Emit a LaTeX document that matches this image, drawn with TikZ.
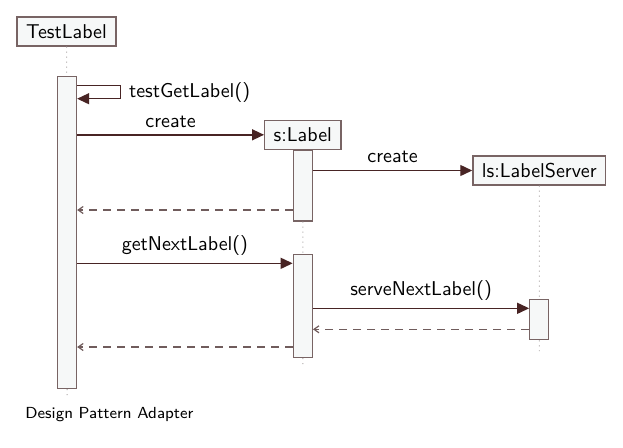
\documentclass[tikz,border=0pt]{standalone}
\usetikzlibrary{arrows.meta}
\definecolor{boxline}{RGB}{120,100,100}
\definecolor{boxfill}{RGB}{246,248,248}
\definecolor{msgline}{RGB}{72,36,36}
\definecolor{retline}{RGB}{112,92,92}
\definecolor{lifeline}{RGB}{170,165,165}
\tikzset{
	objbox/.style={draw=boxline,fill=boxfill,line width=0.65pt,inner xsep=4.5pt,minimum height=14.5pt},
	actbox/.style={draw=boxline,fill=boxfill,line width=0.65pt,minimum width=9.5pt,inner sep=0pt,anchor=north},
	life/.style={draw=lifeline,dotted,line width=0.5pt},
	call/.style={draw=msgline,line width=0.7pt,-{Triangle[length=6pt,width=5.5pt]}},
	reply/.style={draw=retline,dashed,dash pattern=on 4pt off 3pt,line width=0.6pt,-{Straight Barb[length=2.5pt,width=3.5pt]}}
}
\begin{document}
\begin{tikzpicture}[x=0.5pt,y=-0.5pt,font=\sffamily]
				\useasboundingbox (0,0) rectangle (623,447);
				\node[objbox] (tl) at (66.5,31.5) {TestLabel};
				\node[objbox] (s) at (302.8,134.8) {s:Label};
				\node[objbox] (ls) at (539.3,170.5) {ls:LabelServer};
				\node[actbox,minimum height=155.9pt] (tla) at (67,76) {};
				\node[actbox,minimum height=35.2pt] (sa1) at (s.south) {};
				\node[actbox,minimum height=51.5pt] (sa2) at (302.8,253.7) {};
				\node[actbox,minimum height=20.2pt] (lsa) at (539.3,298.7) {};
				\coordinate (tle) at (67,395);
				\coordinate (se) at (302.8,365);
				\coordinate (lse) at (539.3,351);
				\draw[life] (tl)--(tla) (tla)--(tle) (sa1)--(sa2) (sa2)--(se) (ls)--(lsa) (lsa)--(lse);
				\coordinate (m1) at (120.7,85.7);
				\coordinate (m2) at (120.7,98.7);
				\coordinate (m4) at (0,210);
				\coordinate (m5) at (0,263.3);
				\coordinate (m6) at (0,308.3);
				\coordinate (m7) at (0,329.3);
				\coordinate (m8) at (0,347);
				\draw[call] (tla.east|-m1)--(m1)--(m2)node[midway,right,xshift=0.5pt]{testGetLabel()}--(tla.east|-m2);
				\draw[call] (tla.east|-s.west)--(s.west)node[midway,above]{create};
				\draw[call] (sa1.east|-ls.west)--(ls.west)node[midway,above]{create};
				\draw[reply] (sa1.west|-m4)--(tla.east|-m4);
				\draw[call] (tla.east|-m5)--(sa2.west|-m5)node[midway,above]{getNextLabel()};
				\draw[call] (sa2.east|-m6)--(lsa.west|-m6)node[midway,above]{serveNextLabel()};
				\draw[reply] (lsa.west|-m7)--(sa2.east|-m7);
				\draw[reply] (sa2.west|-m8)--(tla.east|-m8);
				\node[anchor=west,inner sep=0pt,font=\sffamily\footnotesize] (cap) at (25,415) {Design Pattern Adapter};
			\end{tikzpicture}
\end{document}
